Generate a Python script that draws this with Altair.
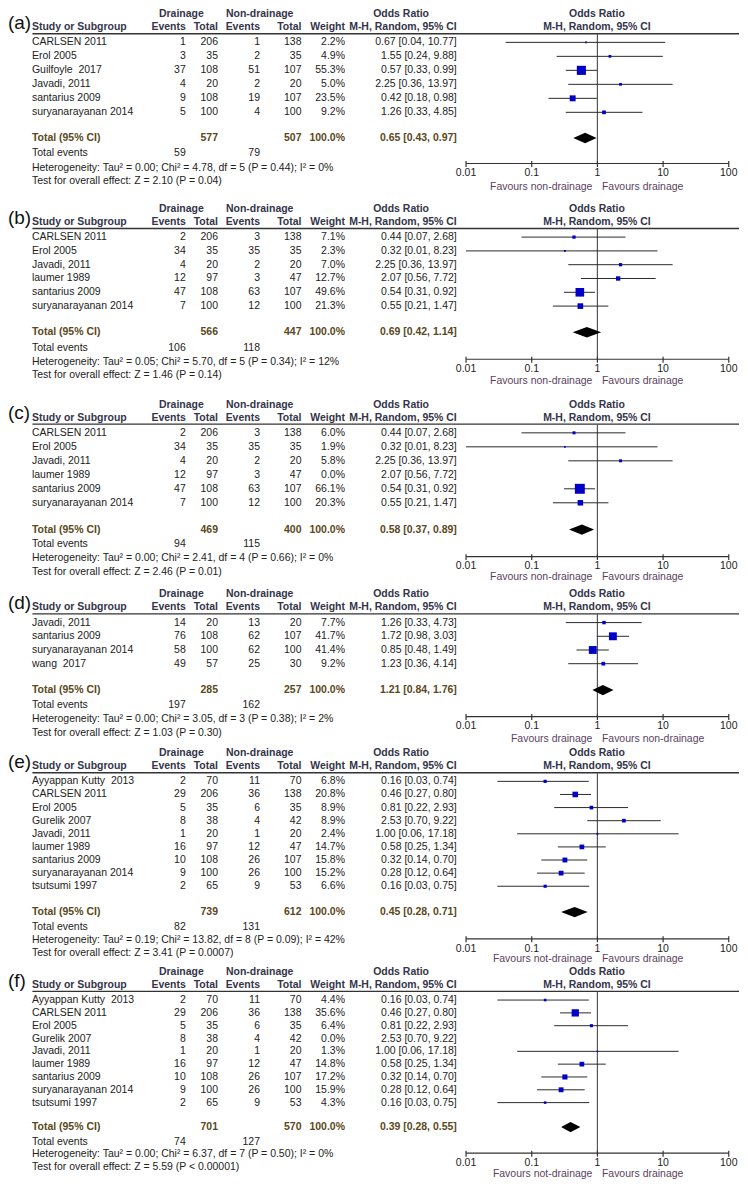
import altair as alt
import pandas as pd

# ---------------- data ----------------
panel_labels = ["(a)", "(b)", "(c)", "(d)", "(e)", "(f)"]

a_study = ["CARLSEN 2011", "Erol 2005", "Guilfoyle  2017", "Javadi, 2011", "santarius 2009", "suryanarayanan 2014"]
a_ev1 = [1, 3, 37, 4, 9, 5]
a_n1 = [206, 35, 108, 20, 108, 100]
a_ev2 = [1, 2, 51, 2, 19, 4]
a_n2 = [138, 35, 107, 20, 107, 100]
a_weight = [2.2, 4.9, 55.3, 5.0, 23.5, 9.2]
a_or = [0.67, 1.55, 0.57, 2.25, 0.42, 1.26]
a_lo = [0.04, 0.24, 0.33, 0.36, 0.18, 0.33]
a_hi = [10.77, 9.88, 0.99, 13.97, 0.98, 4.85]

b_study = ["CARLSEN 2011", "Erol 2005", "Javadi, 2011", "laumer 1989", "santarius 2009", "suryanarayanan 2014"]
b_ev1 = [2, 34, 4, 12, 47, 7]
b_n1 = [206, 35, 20, 97, 108, 100]
b_ev2 = [3, 35, 2, 3, 63, 12]
b_n2 = [138, 35, 20, 47, 107, 100]
b_weight = [7.1, 2.3, 7.0, 12.7, 49.6, 21.3]
b_or = [0.44, 0.32, 2.25, 2.07, 0.54, 0.55]
b_lo = [0.07, 0.01, 0.36, 0.56, 0.31, 0.21]
b_hi = [2.68, 8.23, 13.97, 7.72, 0.92, 1.47]

c_study = ["CARLSEN 2011", "Erol 2005", "Javadi, 2011", "laumer 1989", "santarius 2009", "suryanarayanan 2014"]
c_ev1 = [2, 34, 4, 12, 47, 7]
c_n1 = [206, 35, 20, 97, 108, 100]
c_ev2 = [3, 35, 2, 3, 63, 12]
c_n2 = [138, 35, 20, 47, 107, 100]
c_weight = [6.0, 1.9, 5.8, 0.0, 66.1, 20.3]
c_or = [0.44, 0.32, 2.25, 2.07, 0.54, 0.55]
c_lo = [0.07, 0.01, 0.36, 0.56, 0.31, 0.21]
c_hi = [2.68, 8.23, 13.97, 7.72, 0.92, 1.47]

d_study = ["Javadi, 2011", "santarius 2009", "suryanarayanan 2014", "wang  2017"]
d_ev1 = [14, 76, 58, 49]
d_n1 = [20, 108, 100, 57]
d_ev2 = [13, 62, 62, 25]
d_n2 = [20, 107, 100, 30]
d_weight = [7.7, 41.7, 41.4, 9.2]
d_or = [1.26, 1.72, 0.85, 1.23]
d_lo = [0.33, 0.98, 0.48, 0.36]
d_hi = [4.73, 3.03, 1.49, 4.14]

e_study = ["Ayyappan Kutty  2013", "CARLSEN 2011", "Erol 2005", "Gurelik 2007", "Javadi, 2011",
           "laumer 1989", "santarius 2009", "suryanarayanan 2014", "tsutsumi 1997"]
e_ev1 = [2, 29, 5, 8, 1, 16, 10, 9, 2]
e_n1 = [70, 206, 35, 38, 20, 97, 108, 100, 65]
e_ev2 = [11, 36, 6, 4, 1, 12, 26, 26, 9]
e_n2 = [70, 138, 35, 42, 20, 47, 107, 100, 53]
e_weight = [6.8, 20.8, 8.9, 8.9, 2.4, 14.7, 15.8, 15.2, 6.6]
e_or = [0.16, 0.46, 0.81, 2.53, 1.00, 0.58, 0.32, 0.28, 0.16]
e_lo = [0.03, 0.27, 0.22, 0.70, 0.06, 0.25, 0.14, 0.12, 0.03]
e_hi = [0.74, 0.80, 2.93, 9.22, 17.18, 1.34, 0.70, 0.64, 0.75]

f_study = ["Ayyappan Kutty  2013", "CARLSEN 2011", "Erol 2005", "Gurelik 2007", "Javadi, 2011",
           "laumer 1989", "santarius 2009", "suryanarayanan 2014", "tsutsumi 1997"]
f_ev1 = [2, 29, 5, 8, 1, 16, 10, 9, 2]
f_n1 = [70, 206, 35, 38, 20, 97, 108, 100, 65]
f_ev2 = [11, 36, 6, 4, 1, 12, 26, 26, 9]
f_n2 = [70, 138, 35, 42, 20, 47, 107, 100, 53]
f_weight = [4.4, 35.6, 6.4, 0.0, 1.3, 14.8, 17.2, 15.9, 4.3]
f_or = [0.16, 0.46, 0.81, 2.53, 1.00, 0.58, 0.32, 0.28, 0.16]
f_lo = [0.03, 0.27, 0.22, 0.70, 0.06, 0.25, 0.14, 0.12, 0.03]
f_hi = [0.74, 0.80, 2.93, 9.22, 17.18, 1.34, 0.70, 0.64, 0.75]

tot_n1 = [577, 566, 469, 285, 739, 701]
tot_n2 = [507, 447, 400, 257, 612, 570]
tot_or = [0.65, 0.69, 0.58, 1.21, 0.45, 0.39]
tot_lo = [0.43, 0.42, 0.37, 0.84, 0.28, 0.28]
tot_hi = [0.97, 1.14, 0.89, 1.76, 0.71, 0.55]
tot_ev1 = [59, 106, 94, 197, 82, 74]
tot_ev2 = [79, 118, 115, 162, 131, 127]

het_text = [
    "Heterogeneity: Tau² = 0.00; Chi² = 4.78, df = 5 (P = 0.44); I² = 0%",
    "Heterogeneity: Tau² = 0.05; Chi² = 5.70, df = 5 (P = 0.34); I² = 12%",
    "Heterogeneity: Tau² = 0.00; Chi² = 2.41, df = 4 (P = 0.66); I² = 0%",
    "Heterogeneity: Tau² = 0.00; Chi² = 3.05, df = 3 (P = 0.38); I² = 2%",
    "Heterogeneity: Tau² = 0.19; Chi² = 13.82, df = 8 (P = 0.09); I² = 42%",
    "Heterogeneity: Tau² = 0.00; Chi² = 6.37, df = 7 (P = 0.50); I² = 0%",
]
test_text = [
    "Test for overall effect: Z = 2.10 (P = 0.04)",
    "Test for overall effect: Z = 1.46 (P = 0.14)",
    "Test for overall effect: Z = 2.46 (P = 0.01)",
    "Test for overall effect: Z = 1.03 (P = 0.30)",
    "Test for overall effect: Z = 3.41 (P = 0.0007)",
    "Test for overall effect: Z = 5.59 (P < 0.00001)",
]
fav_left = ["Favours non-drainage", "Favours non-drainage", "Favours non-drainage",
            "Favours drainage", "Favours not-drainage", "Favours not-drainage"]
fav_right = ["Favours drainage", "Favours drainage", "Favours drainage",
             "Favours non-drainage", "Favours drainage", "Favours drainage"]

tick_values = [0.01, 0.1, 1, 10, 100]
tick_labels = ["0.01", "0.1", "1", "10", "100"]

PANELS = [
    dict(study=a_study, ev1=a_ev1, n1=a_n1, ev2=a_ev2, n2=a_n2, w=a_weight, orv=a_or, lo=a_lo, hi=a_hi),
    dict(study=b_study, ev1=b_ev1, n1=b_n1, ev2=b_ev2, n2=b_n2, w=b_weight, orv=b_or, lo=b_lo, hi=b_hi),
    dict(study=c_study, ev1=c_ev1, n1=c_n1, ev2=c_ev2, n2=c_n2, w=c_weight, orv=c_or, lo=c_lo, hi=c_hi),
    dict(study=d_study, ev1=d_ev1, n1=d_n1, ev2=d_ev2, n2=d_n2, w=d_weight, orv=d_or, lo=d_lo, hi=d_hi),
    dict(study=e_study, ev1=e_ev1, n1=e_n1, ev2=e_ev2, n2=e_n2, w=e_weight, orv=e_or, lo=e_lo, hi=e_hi),
    dict(study=f_study, ev1=f_ev1, n1=f_n1, ev2=f_ev2, n2=f_n2, w=f_weight, orv=f_or, lo=f_lo, hi=f_hi),
]

# ---------------- layout / style ----------------
FONT = "Liberation Sans"
FS = 10.5
KH, KV = 0.978, 0.98
W = 732
TXT = "#222222"
HEAD = "#34344a"
TOTC = "#5a4820"
FAVC = "#5b3f5e"
BLUE = "#0000c8"
CIC = "#2a2a2a"
LINEC = "#333333"

STEP = [14.3, 14.1, 14.3, 14.0, 13.4, 13.1]
HEIGHT = [198.3, 200.0, 193.4, 161.6, 223.2, 214.0]
GAP_TOTAL = [26.3, 26.7, 27.4, 27.0, 26.4, 25.0]
GAP_EV = [15.7, 16.0, 15.0, 15.7, 15.3, 15.0]
GAP_HET = [15.0, 14.0, 14.3, 14.3, 13.3, 13.0]
GAP_TEST = [13.7, 13.3, 14.0, 14.0, 13.4, 13.0]
AXIS_OFF = [-4.7, -2.4, -1.7, -3.0, -1.3, -1.3]

COLX = {
    "name": (24.5, "left"),
    "ev1": (182.0, "right"),
    "n1": (215.0, "right"),
    "ev2": (258.0, "right"),
    "n2": (300.5, "right"),
    "w": (345.0, "right"),
    "or": (459.5, "right"),
    "c_drain": (177.5, "center"),
    "c_non": (257.7, "center"),
    "c_or": (402.5, "center"),
    "c_plot": (603.0, "center"),
}


def hx(v):
    return round(v * KH, 2)


def keep_spaces(t):
    # SVG collapses repeated spaces; keep the double spacing visible
    return str(t).replace("  ", " \u00a0")


def fmt_or(o, l, h):
    return f"{o:.2f} [{l:.2f}, {h:.2f}]"


def build_panel(i):
    P = PANELS[i]
    n = len(P["study"])
    s = STEP[i]
    H = HEIGHT[i]
    y_h1, y_h2, y_line, y_lab = 5.5, 18.8, 25.5, 14.5
    y_st = [34.3 + k * s for k in range(n)]
    y_tot = y_st[-1] + GAP_TOTAL[i]
    y_ev = y_tot + GAP_EV[i]
    y_het = y_ev + GAP_HET[i]
    y_test = y_het + GAP_TEST[i]
    y_axis = y_het + AXIS_OFF[i]
    y_tick = y_axis + 10.0
    y_fav = y_het + 19.5

    ys = alt.Scale(domain=[0, H], reverse=True, nice=False, zero=False)
    xs = alt.Scale(type="log", domain=[tick_values[0], tick_values[-1]],
                   range=[hx(469), hx(738)], nice=False)

    cells = []

    def add(y, col, text, kind):
        cells.append(dict(y=y, col=col, text=keep_spaces(text), kind=kind,
                          grp=col + ("|b" if kind != "norm" else "|n")))

    # headers
    add(y_h1, "c_drain", "Drainage", "head")
    add(y_h1, "c_non", "Non-drainage", "head")
    add(y_h1, "c_or", "Odds Ratio", "head")
    add(y_h1, "c_plot", "Odds Ratio", "head")
    add(y_h2, "name", "Study or Subgroup", "head")
    add(y_h2, "ev1", "Events", "head")
    add(y_h2, "n1", "Total", "head")
    add(y_h2, "ev2", "Events", "head")
    add(y_h2, "n2", "Total", "head")
    add(y_h2, "w", "Weight", "head")
    add(y_h2, "or", "M-H, Random, 95% CI", "head")
    add(y_h2, "c_plot", "M-H, Random, 95% CI", "head")
    # studies
    for k in range(n):
        y = y_st[k]
        add(y, "name", P["study"][k], "norm")
        add(y, "ev1", P["ev1"][k], "norm")
        add(y, "n1", P["n1"][k], "norm")
        add(y, "ev2", P["ev2"][k], "norm")
        add(y, "n2", P["n2"][k], "norm")
        add(y, "w", f"{P['w'][k]:.1f}%", "norm")
        add(y, "or", fmt_or(P["orv"][k], P["lo"][k], P["hi"][k]), "norm")
    # total
    add(y_tot, "name", "Total (95% CI)", "total")
    add(y_tot, "n1", tot_n1[i], "total")
    add(y_tot, "n2", tot_n2[i], "total")
    add(y_tot, "w", "100.0%", "total")
    add(y_tot, "or", fmt_or(tot_or[i], tot_lo[i], tot_hi[i]), "total")
    add(y_ev, "name", "Total events", "norm")
    add(y_ev, "ev1", tot_ev1[i], "norm")
    add(y_ev, "ev2", tot_ev2[i], "norm")
    add(y_het, "name", het_text[i], "norm")
    add(y_test, "name", test_text[i], "norm")

    df = pd.DataFrame(cells)
    layers = []
    for grp in df["grp"].unique():
        col, b = grp.split("|")
        x, align = COLX[col]
        bold = b == "b"
        enc = dict(x=alt.value(hx(x)),
                   y=alt.Y("y:Q", scale=ys, axis=None),
                   text=alt.Text("text:N"))
        if bold:
            enc["color"] = alt.Color("kind:N", scale=alt.Scale(domain=["head", "total"], range=[HEAD, TOTC]),
                                     legend=None)
        layers.append(
            alt.Chart().mark_text(align=align, baseline="middle", font=FONT, fontSize=FS,
                                  fontWeight="bold" if bold else "normal", color=TXT)
            .encode(**enc)
            .transform_filter(alt.datum.grp == grp)
        )

    # panel label
    lab_df = pd.DataFrame({"y": [y_lab], "t": [panel_labels[i]]})
    layers.append(
        alt.Chart(lab_df).mark_text(align="left", baseline="middle", font=FONT, fontSize=19, color="#111111")
        .encode(x=alt.value(0), y=alt.Y("y:Q", scale=ys, axis=None), text="t:N")
    )

    # header line
    hl_df = pd.DataFrame({"y": [y_line]})
    layers.append(
        alt.Chart(hl_df).mark_rule(color=LINEC, strokeWidth=1.3)
        .encode(x=alt.value(hx(25)), x2=alt.value(W), y=alt.Y("y:Q", scale=ys, axis=None))
    )

    # vertical no-effect line
    vl_df = pd.DataFrame({"x": [1.0], "y": [y_line], "y2": [y_axis]})
    layers.append(
        alt.Chart(vl_df).mark_rule(color="#555555", strokeWidth=1.2)
        .encode(x=alt.X("x:Q", scale=xs, axis=None), y=alt.Y("y:Q", scale=ys, axis=None), y2="y2:Q")
    )

    # studies CI + squares
    st = pd.DataFrame({"y": y_st, "orv": P["orv"], "lo": P["lo"], "hi": P["hi"], "w": P["w"]})
    st = st[st["w"] > 0]
    layers.append(
        alt.Chart(st).mark_rule(color=CIC, strokeWidth=1)
        .encode(x=alt.X("lo:Q", scale=xs, axis=None), x2="hi:Q", y=alt.Y("y:Q", scale=ys, axis=None))
    )
    layers.append(
        alt.Chart(st).mark_square(color=BLUE, opacity=1, filled=True)
        .encode(x=alt.X("orv:Q", scale=xs, axis=None), y=alt.Y("y:Q", scale=ys, axis=None),
                size=alt.Size("w:Q", scale=alt.Scale(domain=[0, 100], range=[0, 150]), legend=None))
    )

    # diamond
    hd = 5.3
    dia = pd.DataFrame({"x": [tot_lo[i], tot_or[i], tot_hi[i]],
                        "y": [y_tot, y_tot - hd, y_tot],
                        "y2": [y_tot, y_tot + hd, y_tot]})
    layers.append(
        alt.Chart(dia).mark_area(color="black", orient="vertical", interpolate="linear")
        .encode(x=alt.X("x:Q", scale=xs, axis=None), y=alt.Y("y:Q", scale=ys, axis=None), y2="y2:Q")
    )

    # axis
    ax_df = pd.DataFrame({"x": [tick_values[0]], "x2": [tick_values[-1]], "y": [y_axis]})
    layers.append(
        alt.Chart(ax_df).mark_rule(color=LINEC, strokeWidth=1.2)
        .encode(x=alt.X("x:Q", scale=xs, axis=None), x2="x2:Q", y=alt.Y("y:Q", scale=ys, axis=None))
    )
    tk = pd.DataFrame({"v": tick_values, "lab": tick_labels,
                       "y": [y_axis - 2.5] * len(tick_values),
                       "y2": [y_axis + 3.5] * len(tick_values),
                       "yl": [y_tick] * len(tick_values)})
    layers.append(
        alt.Chart(tk).mark_rule(color=LINEC, strokeWidth=1.2)
        .encode(x=alt.X("v:Q", scale=xs, axis=None), y=alt.Y("y:Q", scale=ys, axis=None), y2="y2:Q")
    )
    layers.append(
        alt.Chart(tk).mark_text(align="center", baseline="middle", font=FONT, fontSize=FS, color=TXT)
        .encode(x=alt.X("v:Q", scale=xs, axis=None), y=alt.Y("yl:Q", scale=ys, axis=None), text="lab:N")
    )

    # favours labels
    fv = pd.DataFrame({"x": [1.0], "y": [y_fav], "l": [fav_left[i]], "r": [fav_right[i]]})
    layers.append(
        alt.Chart(fv).mark_text(align="right", baseline="middle", font=FONT, fontSize=FS, color=FAVC, dx=-5)
        .encode(x=alt.X("x:Q", scale=xs, axis=None), y=alt.Y("y:Q", scale=ys, axis=None), text="l:N")
    )
    layers.append(
        alt.Chart(fv).mark_text(align="left", baseline="middle", font=FONT, fontSize=FS, color=FAVC, dx=4.5)
        .encode(x=alt.X("x:Q", scale=xs, axis=None), y=alt.Y("y:Q", scale=ys, axis=None), text="r:N")
    )

    return alt.layer(*layers, data=df).properties(width=W, height=round(H * KV, 1))


chart = (
    alt.vconcat(*[build_panel(i) for i in range(6)], spacing=0, bounds="flush", padding=0)
    .resolve_scale(x="independent", y="independent")
    .configure_view(stroke=None)
)

chart.save("out.html", embed_options={"renderer": "svg", "actions": False})
